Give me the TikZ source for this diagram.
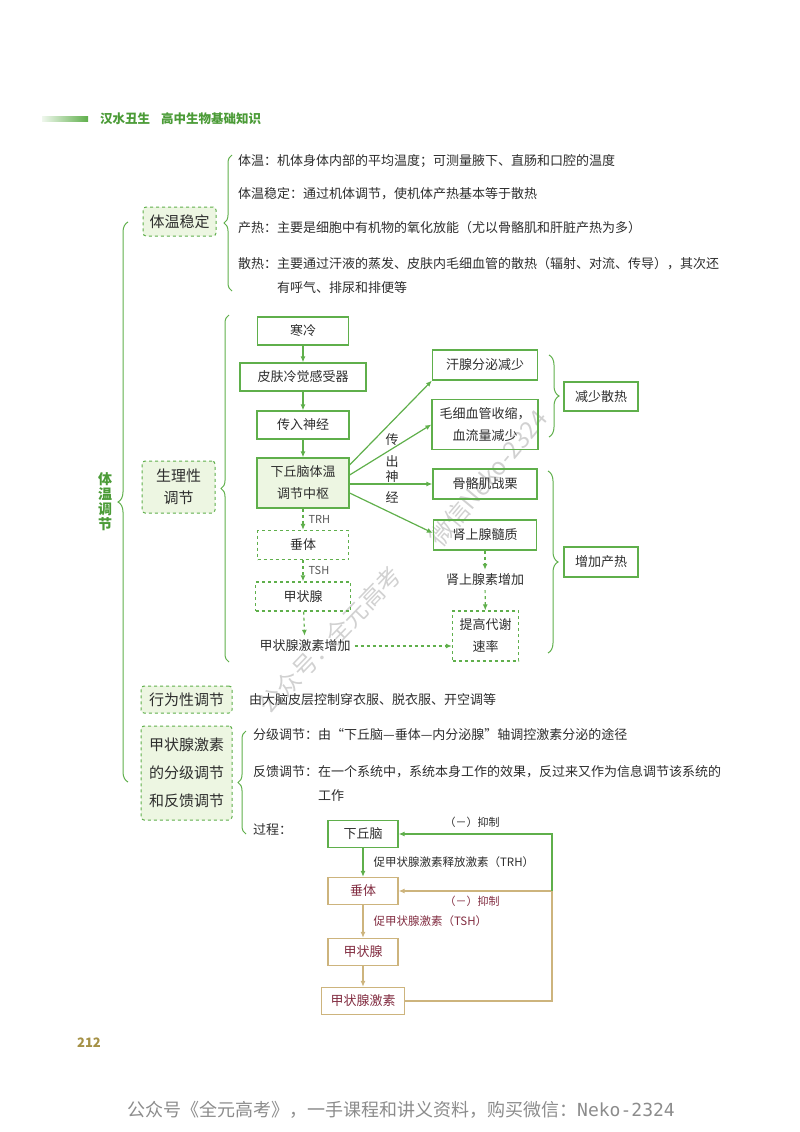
\documentclass[tikz,border=0pt]{standalone}
\usepackage{fontspec}
\setmainfont{Noto Sans CJK SC}
\newfontfamily\monofont{DejaVu Sans Mono}
\usetikzlibrary{arrows.meta,decorations.pathreplacing}
\definecolor{leaf}{RGB}{95,175,75}
\definecolor{leafbg}{RGB}{237,246,226}
\definecolor{hdr}{RGB}{75,155,55}
\definecolor{ink}{RGB}{45,45,45}
\definecolor{sand}{RGB}{205,180,125}
\definecolor{wine}{RGB}{130,45,65}
\definecolor{gold}{RGB}{165,145,70}
\tikzset{cell/.style={draw=leaf, line width=1.2pt, minimum height=28pt, inner sep=0pt,
        align=center, text=ink, font=\fontsize{13}{22}\selectfont},
    cellhl/.style={cell, fill=leafbg},
    celld/.style={cell, dashed},
    tcell/.style={cell, draw=sand, text=wine, minimum width=70pt, minimum height=27pt},
    topic/.style={draw=leaf, line width=1pt, dashed, rounded corners=3pt, fill=leafbg,
        inner sep=0pt, align=center, text=ink, font=\fontsize{15}{22}\selectfont},
    txt/.style={anchor=west, align=left, inner sep=0pt, text=ink, font=\fontsize{13}{24}\selectfont},
    plaintxt/.style={inner sep=4pt, text=ink, font=\fontsize{13}{22}\selectfont},
    tag/.style={anchor=west, inner sep=0pt, xshift=5pt, text=ink!80, font=\fontsize{11}{13}\selectfont},
    note/.style={anchor=west, inner sep=0pt, xshift=10pt, text=ink, font=\fontsize{11.5}{13}\selectfont},
    arr/.style={draw=leaf, line width=1.2pt, -{Latex[length=6pt,width=5pt]}},
    arrd/.style={arr, dashed},
    tarr/.style={arr, draw=sand},
    tline/.style={draw=sand, line width=1.2pt},
    curly/.style={draw=leaf, line width=1pt, decorate, decoration={brace, amplitude=8pt}},
    wmk/.style={text=black!18, font=\fontsize{24}{26}\selectfont}}
\begin{document}
\begin{tikzpicture}[x=1pt, y=-1pt]
\useasboundingbox (0,0) rectangle (800,1132);
% header
\shade[left color=leaf!10, right color=leaf] (42,116.5) rectangle (88,121.5);
\node[anchor=west, inner sep=0pt, text=hdr, font=\bfseries\fontsize{12.5}{15}\selectfont] (head) at (100,119) {汉水丑生\hspace{11pt}高中生物基础知识};

% watermarks
\node[wmk, rotate=46] (wm1) at (330,640) {公众号：全元高考};
\node[wmk, rotate=50] (wm2) at (488,478) {微信Neko-2324};

% main brace
\node[align=center, inner sep=0pt, text=hdr, font=\bfseries\fontsize{14}{15}\selectfont] (main) at (105,502) {体\\温\\调\\节};
\draw[curly, decoration={brace, amplitude=10pt}] (128,782) -- (128,222);

% body temperature
\node[topic, minimum width=73pt, minimum height=29pt] (steady) at (179.5,221.5) {体温稳定};
\draw[curly] (232,291) -- (232,155);
\node[txt] (t1) at (238,161) {体温：机体身体内部的平均温度；可测量腋下、直肠和口腔的温度};
\node[txt] (t2) at (238,194) {体温稳定：通过机体调节，使机体产热基本等于散热};
\node[txt] (t3) at (238,228) {产热：主要是细胞中有机物的氧化放能（尤以骨骼肌和肝脏产热为多）};
\node[txt] (t4) at (238,275) {散热：主要通过汗液的蒸发、皮肤内毛细血管的散热（辐射、对流、传导），其次还\\\hphantom{散热：}有呼气、排尿和排便等};

% physiological regulation
\node[topic, minimum width=73pt, minimum height=52pt] (phys) at (178.5,487) {生理性\\调节};
\draw[curly] (229,662) -- (229,315);
\node[cell, minimum width=91pt] (cold) at (303,331) {寒冷};
\node[cell, minimum width=126pt] (skin) at (303,377) {皮肤冷觉感受器};
\node[cell, minimum width=92pt] (aff) at (303,425) {传入神经};
\node[cellhl, minimum width=92pt, minimum height=50pt] (hypo) at (303,483) {下丘脑体温\\调节中枢};
\node[celld, minimum width=91pt, minimum height=29pt] (pit) at (303,545) {垂体};
\node[celld, minimum width=95pt, minimum height=29pt] (thy) at (303,596.5) {甲状腺};
\node[plaintxt] (thyup) at (305,646) {甲状腺激素增加};
\node[cell, minimum width=105pt, minimum height=30pt] (sweat) at (485,365) {汗腺分泌减少};
\node[cell, minimum width=106pt, minimum height=50pt] (capil) at (485,424.5) {毛细血管收缩，\\血流量减少};
\node[cell, minimum width=104pt, minimum height=30pt] (shiver) at (485,484) {骨骼肌战栗};
\node[cell, minimum width=103pt, minimum height=30pt] (adre) at (485,535) {肾上腺髓质};
\node[plaintxt] (adrup) at (485,580) {肾上腺素增加};
\node[celld, minimum width=66pt, minimum height=50pt] (meta) at (485.5,636) {提高代谢\\速率};
\node[cell, minimum width=74pt, minimum height=29pt] (less) at (601,396.5) {减少散热};
\node[cell, minimum width=74pt, minimum height=30pt] (more) at (601,562) {增加产热};
\foreach \ch/\yy in {传/440,出/462,神/477,经/497}
    \node[inner sep=0pt, text=ink, font=\fontsize{13}{15}\selectfont] (eff\yy) at (392,\yy) {\ch};
\draw[arr] (cold) -- (skin);
\draw[arr] (skin) -- (aff);
\draw[arr] (aff) -- (hypo);
\draw[arr] ([yshift=18pt]hypo.east) -- (sweat.south west);
\draw[arr] ([yshift=8pt]hypo.east) -- (capil.west);
\draw[arr] (hypo.east |- shiver.west) -- (shiver.west);
\draw[arr] ([yshift=-10pt]hypo.east) -- ([yshift=2pt]adre.west);
\draw[arrd] (hypo) -- node[tag] {TRH} (pit);
\draw[arrd] (pit) -- node[tag] {TSH} (thy);
\draw[arrd] (thy) -- (thyup);
\draw[arrd] (thyup.east) -- (meta.west |- thyup.east);
\draw[arrd] (adre) -- (adrup);
\draw[arrd] (adrup) -- (meta);
\draw[curly, decoration={brace, amplitude=10pt}] (549,355) -- (549,437);
\draw[curly, decoration={brace, amplitude=10pt}] (548,471) -- (548,653);

% behaviour
\node[topic, minimum width=91pt, minimum height=27pt] (behav) at (186.5,699.5) {行为性调节};
\node[txt] (b1) at (249,700) {由大脑皮层控制穿衣服、脱衣服、开空调等};

% thyroid hormone
\node[topic, minimum width=91pt, minimum height=94pt, font=\fontsize{15}{28}\selectfont] (thyreg) at (186.5,773) {甲状腺激素\\的分级调节\\和反馈调节};
\draw[curly] (246,834) -- (246,731);
\node[txt] (g1) at (253,735) {分级调节：由“下丘脑—垂体—内分泌腺”轴调控激素分泌的途径};
\node[txt] (g2) at (253,783.5) {反馈调节：在一个系统中，系统本身工作的效果，反过来又作为信息调节该系统的\\\hphantom{反馈调节：}工作};
\node[txt] (g3) at (253,830) {过程：};
\node[cell, minimum width=70pt, minimum height=27pt] (hyp2) at (363,834) {下丘脑};
\node[tcell] (pit2) at (363,891) {垂体};
\node[tcell] (thy2) at (363,952) {甲状腺};
\node[tcell, minimum width=83pt] (horm) at (363,1001) {甲状腺激素};
\coordinate (fb) at (552,891);
\draw[arr] (hyp2) -- node[note] {促甲状腺激素释放激素（TRH）} (pit2);
\draw[tarr] (pit2) -- node[note, text=wine] {促甲状腺激素（TSH）} (thy2);
\draw[tarr] (thy2) -- (horm);
\draw[tline] (horm.east) -| (fb);
\draw[tarr] (fb) -- (pit2.east);
\draw[arr] (fb) |- (hyp2.east);
\node[inner sep=0pt, text=ink, font=\fontsize{11}{13}\selectfont] (inh1) at (472,822) {（－）抑制};
\node[inner sep=0pt, text=wine, font=\fontsize{11}{13}\selectfont] (inh2) at (472,901) {（－）抑制};

% footer
\node[text=gold, font=\bfseries\fontsize{13}{15}\selectfont] (page) at (89,1043) {212};
\node[text=black!45, font=\fontsize{18}{20}\selectfont] (foot) at (401,1110) {公众号《全元高考》，一手课程和讲义资料，购买微信：{\monofont Neko-2324}};
\end{tikzpicture}
\end{document}
